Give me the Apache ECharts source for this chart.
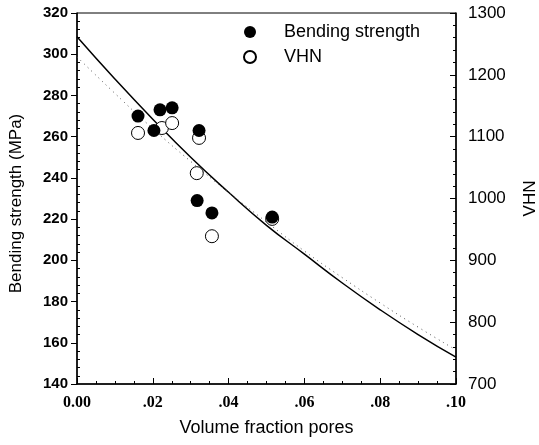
<!DOCTYPE html>
<html>
<head>
<meta charset="utf-8">
<script src="https://cdn.jsdelivr.net/npm/echarts@6/dist/echarts.min.js"></script>
<style>
  html, body { margin: 0; padding: 0; background: #fff; }
  #chart { width: 539px; height: 445px; }
</style>
</head>
<body>
<div id="chart"></div>
<script>
// Measured points: volume fraction of pores vs bending strength (MPa) and VHN
const bendPores = [0.0161, 0.0203, 0.0219, 0.0251, 0.0322, 0.0317, 0.0356, 0.0515];
const bendStrength = [270, 263, 273, 274, 263, 229, 223, 221];

const vhnPores = [0.0161, 0.0224, 0.0251, 0.0322, 0.0316, 0.0356, 0.0515];
const vhnValues = [1106, 1114, 1122, 1098, 1041, 939, 967];

// Fitted curves sampled along the pore fraction axis
const fitPores = [0, 0.01, 0.02, 0.03, 0.04, 0.05, 0.06, 0.07, 0.08, 0.09, 0.10];
const bendFit = [308.5, 288, 268.5, 250, 233, 217, 203, 189, 176, 164, 153];
const vhnFit = [1229, 1170, 1113, 1060, 1010, 962, 915, 872, 831, 792, 755];

const pairs = (xs, ys) => xs.map((x, i) => [x, ys[i]]);

const chart = echarts.init(document.getElementById('chart'), null, { renderer: 'canvas' });

const sans = 'Liberation Sans, Arial, sans-serif';
const serif = 'Liberation Serif, Times New Roman, serif';

chart.setOption({
  backgroundColor: '#fff',
  animation: false,
  grid: {
    left: 77, right: 83, top: 13, bottom: 61,
    containLabel: false, outerBoundsMode: 'none',
    show: true, borderColor: '#000', borderWidth: 1, backgroundColor: 'transparent'
  },
  legend: {
    orient: 'vertical',
    left: 238, top: 18,
    itemWidth: 12, itemHeight: 12, itemGap: 7,
    textStyle: { fontFamily: sans, fontSize: 18, color: '#000', padding: [0, 0, 0, 23] },
    data: ['Bending strength', 'VHN']
  },
  xAxis: {
    type: 'value', min: 0, max: 0.1, interval: 0.02,
    name: 'Volume fraction pores', nameLocation: 'middle', nameGap: 35,
    nameTextStyle: { fontFamily: sans, fontSize: 18, color: '#000' },
    axisLine: { lineStyle: { color: '#000', width: 1.5 } },
    axisTick: { inside: true, length: 6, lineStyle: { color: '#000' } },
    minorTick: { show: true, splitNumber: 4, length: 3, lineStyle: { color: '#000' } },
    splitLine: { show: false },
    axisLabel: {
      margin: 11, fontFamily: serif, fontWeight: 'bold', fontSize: 16, color: '#000',
      formatter: v => v === 0 ? '0.00' : '.' + String(Math.round(v * 100)).padStart(2, '0')
    }
  },
  yAxis: [
    {
      type: 'value', position: 'left', min: 140, max: 320, interval: 20,
      name: 'Bending strength (MPa)', nameLocation: 'middle', nameGap: 52, nameRotate: 90,
      nameTextStyle: { fontFamily: sans, fontSize: 17, color: '#000', padding: [0, 10, 0, 0] },
      axisLine: { show: true, lineStyle: { color: '#000', width: 1.5 } },
      axisTick: { show: true, inside: false, length: 6, lineStyle: { color: '#000' } },
      splitLine: { show: false },
      axisLabel: { margin: 9, fontFamily: sans, fontWeight: 'bold', fontSize: 15, color: '#000' }
    },
    {
      type: 'value', position: 'right', min: 700, max: 1300, interval: 100,
      name: 'VHN', nameLocation: 'middle', nameGap: 66, nameRotate: 90,
      nameTextStyle: { fontFamily: sans, fontSize: 17, color: '#000' },
      axisLine: { show: true, lineStyle: { color: '#000', width: 1.5 } },
      axisTick: { show: true, inside: true, length: 6, lineStyle: { color: '#000' } },
      minorTick: { show: true, splitNumber: 5, length: 3, lineStyle: { color: '#000' } },
      splitLine: { show: false },
      axisLabel: { margin: 12, fontFamily: sans, fontSize: 17, color: '#000', formatter: v => String(v) }
    },
    {
      // inner minor ticks of the strength axis
      type: 'value', position: 'left', min: 140, max: 320, interval: 20,
      axisLine: { show: false },
      axisTick: { show: false, inside: true },
      minorTick: { show: true, splitNumber: 5, length: 3, lineStyle: { color: '#000' } },
      axisLabel: { show: false },
      splitLine: { show: false }
    }
  ],
  series: [
    {
      name: 'strength fit', type: 'line', yAxisIndex: 0, smooth: true,
      showSymbol: false, silent: true,
      lineStyle: { color: '#000', width: 1.5 },
      data: pairs(fitPores, bendFit), z: 2
    },
    {
      name: 'VHN fit', type: 'line', yAxisIndex: 1, smooth: true,
      showSymbol: false, silent: true,
      lineStyle: { color: '#555', width: 1, type: [1, 4] },
      data: pairs(fitPores, vhnFit), z: 2
    },
    {
      name: 'VHN', type: 'scatter', yAxisIndex: 1,
      symbol: 'circle', symbolSize: 13,
      itemStyle: { color: '#fff', borderColor: '#000', borderWidth: 1, opacity: 1 },
      data: pairs(vhnPores, vhnValues), z: 3
    },
    {
      name: 'Bending strength', type: 'scatter', yAxisIndex: 0,
      symbol: 'circle', symbolSize: 13,
      itemStyle: { color: '#000', opacity: 1 },
      data: pairs(bendPores, bendStrength), z: 4
    }
  ]
});
</script>
</body>
</html>
